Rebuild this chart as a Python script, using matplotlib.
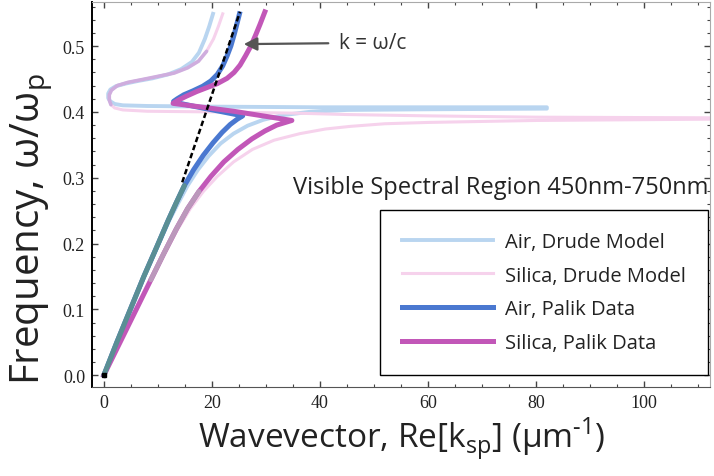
import matplotlib
matplotlib.use('Agg')
import matplotlib.pyplot as plt
import numpy as np

# wavevector Re[k_sp] (um^-1) and frequency w/wp
air_palik_k = [0, 2.4, 4.9, 7.4, 9.8, 11.9, 13.4, 14.9, 16.6, 18.4, 20.2, 21.9, 23.4, 24.7, 25.7,
               22.0, 17.0, 13.5, 12.9,
               13.6, 14.8, 16.5, 18.3, 19.8, 21.0, 22.0, 22.8, 23.5, 24.2, 25.1]
air_palik_w = [0, 0.05, 0.1, 0.15, 0.195, 0.235, 0.262, 0.288, 0.312, 0.334, 0.353, 0.369, 0.381, 0.389, 0.394,
               0.400, 0.408, 0.414, 0.416,
               0.420, 0.426, 0.432, 0.439, 0.447, 0.457, 0.47, 0.485, 0.50, 0.52, 0.549]

silica_palik_k = [0, 3.0, 6.0, 8.7, 11.1, 13.4, 15.5, 17.6, 19.8, 22.2, 24.8, 27.4, 29.8, 32.0, 33.6, 34.8,
                  24.0, 12.8,
                  13.8, 15.3, 17.2, 19.1, 21.0, 22.8, 24.1, 25.2, 26.2, 27.2, 28.1, 28.9, 29.8]
silica_palik_w = [0, 0.05, 0.1, 0.145, 0.185, 0.222, 0.253, 0.279, 0.302, 0.324, 0.343, 0.359, 0.371, 0.38, 0.384, 0.387,
                  0.401, 0.413,
                  0.418, 0.424, 0.431, 0.437, 0.443, 0.451, 0.46, 0.471, 0.485, 0.5, 0.517, 0.533, 0.552]

air_drude_k = [0, 2.4, 4.9, 7.4, 9.9, 12.1, 13.8, 15.5, 17.4, 19.4, 21.6, 24.0, 26.6, 29.5, 33, 38, 45, 60, 82,
               82, 60, 40, 20, 8, 3.5, 2.0, 1.2, 0.8, 0.8, 1.2, 2.2, 4.0, 6.3, 9.0, 11.9, 14.3, 16.3, 17.6, 18.7, 19.5, 20.2]
air_drude_w = [0, 0.05, 0.1, 0.15, 0.195, 0.235, 0.262, 0.288, 0.312, 0.333, 0.352, 0.367, 0.379, 0.388, 0.395, 0.4, 0.403, 0.404, 0.405,
               0.407, 0.407, 0.407, 0.408, 0.409, 0.41, 0.412, 0.416, 0.421, 0.428, 0.434, 0.439, 0.443, 0.447, 0.451, 0.457, 0.465, 0.476, 0.49, 0.511, 0.53, 0.549]

silica_drude_k = [0, 3.0, 6.0, 8.8, 11.3, 13.7, 16.0, 18.4, 21.0, 24.0, 27.5, 31.5, 36.3, 41, 45.6, 52, 60, 80, 113,
                  113, 80, 60, 45, 36, 20, 8, 3.5, 2.0, 1.3, 1.0, 1.0, 1.4, 2.5, 4.5, 7.0, 10, 13, 15.5, 17.5, 19.0, 20.3, 21.2, 22.0]
silica_drude_w = [0, 0.05, 0.1, 0.145, 0.185, 0.222, 0.253, 0.279, 0.302, 0.324, 0.343, 0.357, 0.367, 0.374, 0.378, 0.382, 0.384, 0.387, 0.389,
                  0.391, 0.392, 0.394, 0.396, 0.398, 0.4, 0.401, 0.403, 0.406, 0.411, 0.418, 0.426, 0.433, 0.44, 0.445, 0.449, 0.454, 0.459, 0.467, 0.477, 0.492, 0.511, 0.53, 0.549]

# light line k = w/c (the part that shows above the curves)
light_k = [14.5, 25.2]
light_w = [0.293, 0.552]

labels = ['Air, Drude Model', 'Silica, Drude Model', 'Air, Palik Data', 'Silica, Palik Data']
colors = ['#b9d5f0', '#f6d2ec', '#4a78d0', '#c257b8']

sans = ['Open Sans', 'DejaVu Sans']

fig = plt.figure(figsize=(7.14, 4.77), dpi=100)
ax = fig.add_axes([92/714, 1 - 388/477, 618/714, 385/477])

ax.plot(air_drude_k, air_drude_w, color=colors[0], lw=2.8, solid_joinstyle='round', zorder=2, label=labels[0])
ax.plot(silica_drude_k, silica_drude_w, color=colors[1], lw=2.2, solid_joinstyle='round', zorder=2, label=labels[1])

# upper branches of the two Drude curves overlap -> lavender
sk = np.array(silica_drude_k)
sw = np.array(silica_drude_w)
up = (sw >= 0.41) & (sw <= 0.50)
ax.plot(sk[up], sw[up], color='#c9a7dc', lw=2.6, alpha=0.85, solid_capstyle='round', zorder=2.5)

ax.plot(air_palik_k, air_palik_w, color=colors[2], lw=3.6, solid_joinstyle='round', zorder=3, label=labels[2])
ax.plot(silica_palik_k, silica_palik_w, color=colors[3], lw=3.6, solid_joinstyle='round', zorder=3, label=labels[3])

# outside the visible region the Palik curves fade
ak = np.array(air_palik_k)
aw = np.array(air_palik_w)
m = aw <= 0.29
ax.plot(ak[m], aw[m], color='#5a8f94', lw=3.6, solid_capstyle='round', zorder=3.2)
pk = np.array(silica_palik_k)
pw = np.array(silica_palik_w)
m = (pw >= 0.14) & (pw <= 0.30)
ax.plot(pk[m], pw[m], color='#bb98bb', lw=3.6, solid_capstyle='round', zorder=3.2)

ax.plot(light_k, light_w, color='black', lw=1.8, ls=(0, (2.2, 1.2)), zorder=4)
ax.plot([0], [0], marker='s', color='black', ms=3, zorder=5)

ax.annotate('k = ω/c', xy=(25.9, 0.503), xytext=(43.6, 0.505),
            fontsize=15, family=sans, color='#333333', va='center', ha='left',
            arrowprops=dict(arrowstyle='-|>', color='#555555', lw=1.6,
                            mutation_scale=20, shrinkA=6, shrinkB=0,
                            facecolor='#888888'))

ax.text(0.997, 0.52, 'Visible Spectral Region 450nm-750nm', transform=ax.transAxes,
        ha='right', va='center', fontsize=17, family=sans, color='#222222')

leg = ax.legend(loc='lower right', bbox_to_anchor=(0.997, 0.031), borderaxespad=0,
                prop={'family': sans, 'size': 14.5}, handlelength=4.5, handletextpad=0.6,
                labelspacing=0.68, borderpad=1.1, fancybox=False, framealpha=1,
                edgecolor='black')
leg.get_frame().set_linewidth(1.0)
for t in leg.get_texts():
    t.set_color('#222222')

ax.set_xlim(-2.2, 112.2)
ax.set_ylim(-0.018, 0.567)
ax.set_xticks([0, 20, 40, 60, 80, 100])
ax.set_xticks(np.arange(0, 112, 5), minor=True)
ax.set_yticks([0, 0.1, 0.2, 0.3, 0.4, 0.5])
ax.set_yticks(np.arange(0, 0.56, 0.02), minor=True)
ax.set_yticklabels(['0.0', '0.1', '0.2', '0.3', '0.4', '0.5'])
ax.tick_params(which='both', direction='in', top=True, right=True, colors='#444444')
ax.tick_params(which='major', length=4.5, width=1.0, labelsize=13, pad=5)
ax.tick_params(which='minor', length=2.5, width=0.8)
for lab in ax.get_xticklabels() + ax.get_yticklabels():
    lab.set_family('Liberation Serif')
    lab.set_color('#222222')

ax.spines['left'].set_color('black')
ax.spines['left'].set_linewidth(1.4)
ax.spines['bottom'].set_color('#555555')
ax.spines['top'].set_color('#aaaaaa')
ax.spines['right'].set_color('#aaaaaa')

fig.text(0.562, 1 - 448/477, r'Wavevector, Re[k$_{\mathregular{sp}}$] (μm$^{\mathregular{‐1}}$)',
         ha='center', va='baseline', fontsize=24, family=sans, color='#222222')
fig.text(0.044, 0.52, r'Frequency, ω/ω$_{\mathregular{p}}$', rotation=90,
         ha='center', va='center', fontsize=29, family=sans, color='#222222')

fig.savefig('out.png', dpi=100)
